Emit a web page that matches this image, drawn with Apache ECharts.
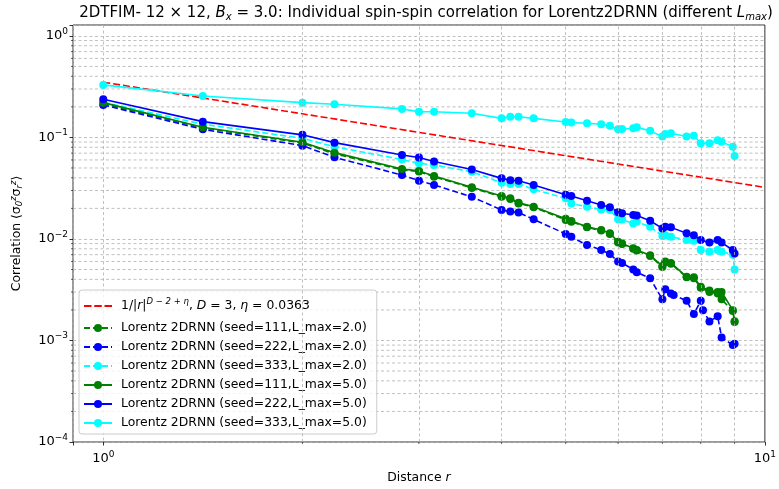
<!DOCTYPE html>
<html>
<head>
<meta charset="utf-8">
<script src="https://cdn.jsdelivr.net/npm/echarts@6/dist/echarts.min.js"></script>
<style>
  html, body { margin: 0; padding: 0; background: #ffffff; }
  #chart { width: 779px; height: 489px; }
</style>
</head>
<body>
<div id="chart"></div>
<script>
// Pair distances r on the 12x12 lattice
const distances = [1, 1.414, 2, 2.236, 2.828, 3, 3.162, 3.606, 4, 4.123, 4.243, 4.472,
  5, 5.099, 5.385, 5.657, 5.831, 6, 6.083, 6.325, 6.403, 6.708, 7, 7.071, 7.211, 7.280,
  7.616, 7.810, 8, 8.062, 8.246, 8.485, 8.602, 8.944, 9];

// <sigma_0^z sigma_r^z> per model (null = pair distance not sampled)
const seed111Lmax2 = [0.215, 0.124, 0.088, 0.069, 0.0480, 0.0462, 0.0410, 0.0318, 0.0260, 0.0248, 0.0224, 0.0205,
  0.0154, 0.0148, 0.0130, 0.0121, 0.0112, 0.0092, 0.0089, 0.0080, 0.0077, 0.0068, 0.0053, 0.0059, 0.0057, null,
  0.0042, 0.0041, 0.0033, null, 0.0030, 0.0029, 0.00254, 0.00195, 0.00152];
const seed222Lmax2 = [0.209, 0.120, 0.083, 0.0637, 0.0426, 0.0375, 0.0340, 0.0260, 0.0193, 0.0186, 0.0182, 0.0156,
  0.0112, 0.0105, 0.0087, 0.0078, 0.0071, 0.0060, 0.0058, 0.0050, 0.0047, 0.0041, 0.00254, 0.0032, 0.0029, 0.0028,
  0.00246, 0.00182, 0.00246, 0.00199, 0.00154, 0.00173, 0.00107, 0.00090, 0.00093];
const seed333Lmax2 = [0.222, 0.135, 0.098, 0.081, 0.0605, 0.0556, 0.0535, 0.0459, 0.0358, 0.0348, 0.0348, 0.0308,
  0.0251, 0.0224, 0.0207, 0.0195, 0.0193, 0.0156, 0.0155, 0.0142, 0.0148, 0.0132, 0.0107, 0.0109, 0.0105, null,
  0.00976, 0.0096, 0.00778, null, 0.0075, 0.00778, 0.0075, 0.0070, 0.0050];
const seed111Lmax5 = [0.220, 0.126, 0.0895, 0.0708, 0.0489, 0.0468, 0.0417, 0.0323, 0.0265, 0.0252, 0.0227, 0.0208,
  0.0158, 0.0150, 0.0132, 0.01225, 0.0114, 0.00938, 0.0090, 0.0081, 0.0078, 0.0069, 0.0054, 0.0060, 0.0058, null,
  0.00424, 0.0042, 0.00338, null, 0.0031, 0.0030, 0.0030, 0.00199, 0.00155];
const seed222Lmax5 = [0.238, 0.143, 0.106, 0.0888, 0.0672, 0.0633, 0.0578, 0.0484, 0.0395, 0.0378, 0.0375, 0.0340,
  0.0272, 0.0265, 0.0238, 0.0216, 0.0205, 0.0183, 0.0179, 0.0172, 0.0170, 0.0151, 0.0127, 0.0132, 0.0130, null,
  0.01135, 0.0109, 0.00976, null, 0.0092, 0.00976, 0.0092, 0.00778, 0.0072];
const seed333Lmax5 = [0.329, 0.256, 0.220, 0.212, 0.191, 0.179, 0.179, 0.173, 0.154, 0.160, 0.160, 0.154,
  0.142, 0.140, 0.138, 0.135, 0.130, 0.120, 0.121, 0.123, 0.126, 0.116, 0.102, 0.108, 0.110, null,
  0.102, 0.104, 0.0875, null, 0.0875, 0.094, 0.0904, 0.081, 0.0657];

// Reference power law 1/|r|^(D-2+eta), drawn between its two end points
const powerLawR = [1, 10];
const powerLawC = [0.35, 0.0322];

// Axis ranges and minor grid ticks
const xRange = [0.9, 10];
const yRange = [1e-4, 1.28];
const xMinorTicks = [2, 3, 4, 5, 6, 7, 8, 9];
const yDecades = [1e-4, 1e-3, 1e-2, 1e-1];
const minorSteps = [2, 3, 4, 5, 6, 7, 8, 9];

const FONT = 'DejaVu Sans';
const GRID_COLOR = '#b0b0b0';
const GRID_DASH = [3, 2.5];

function pairs(xs, ys) {
  const out = [];
  xs.forEach((x, i) => { if (ys[i] != null) out.push([x, ys[i]]); });
  return out;
}

const yMinorTicks = [];
yDecades.forEach(d => minorSteps.forEach(m => yMinorTicks.push(m * d)));

function isPow10(v) {
  const e = Math.log10(v);
  return Math.abs(e - Math.round(e)) < 1e-6;
}
function expLabel(v) {
  if (!isPow10(v)) return '';
  const e = Math.round(Math.log10(v));
  return '10{sup|' + (e < 0 ? '\u2212' + (-e) : e) + '}';
}

const supStyle = { fontFamily: FONT, fontSize: 9, padding: [0, 0, 9, 0], color: '#000' };

const lineSeries = [
  { name: 'Lorentz 2DRNN (seed=111,L_max=2.0)', ys: seed111Lmax2, color: '#008000', dash: [6, 3] },
  { name: 'Lorentz 2DRNN (seed=222,L_max=2.0)', ys: seed222Lmax2, color: '#0000ff', dash: [6, 3] },
  { name: 'Lorentz 2DRNN (seed=333,L_max=2.0)', ys: seed333Lmax2, color: '#00ffff', dash: [6, 3] },
  { name: 'Lorentz 2DRNN (seed=111,L_max=5.0)', ys: seed111Lmax5, color: '#008000', dash: 'solid' },
  { name: 'Lorentz 2DRNN (seed=222,L_max=5.0)', ys: seed222Lmax5, color: '#0000ff', dash: 'solid' },
  { name: 'Lorentz 2DRNN (seed=333,L_max=5.0)', ys: seed333Lmax5, color: '#00ffff', dash: 'solid' }
];
const powerLawName = '1/|r|^(D\u22122+\u03b7), D = 3, \u03b7 = 0.0363';
const dashedIcon = 'path://M0,0h7.5v2h-7.5z M10.25,0h7.5v2h-7.5z M20.5,0h7.5v2h-7.5z';

// Minor y grid lines and minor ticks on both axes.
// Items: [x, y, kind]; kind 0 = tick below the x axis at x, kind 1 = horizontal line + tick at y
const minorGridData = xMinorTicks.map(v => [v, 0.01, 0])
  .concat(yMinorTicks.map(v => [3, v, 1]));

function renderMinorGrid(params, api) {
  const kind = api.value(2);
  if (kind < 0.5) {
    const v = api.value(0);
    const a = api.coord([v, yRange[0]]);
    return {
      type: 'polyline',
      shape: { points: [[a[0], a[1]], [a[0], a[1] + 2]] },
      style: { stroke: '#000', lineWidth: 0.6, fill: null }
    };
  }
  const v = api.value(1);
  const a = api.coord([xRange[0], v]);
  const b = api.coord([xRange[1], v]);
  return {
    type: 'group',
    children: [
      { type: 'line', shape: { x1: a[0], y1: a[1], x2: b[0], y2: b[1] },
        style: { stroke: GRID_COLOR, lineWidth: 0.8, lineDash: GRID_DASH } },
      { type: 'line', shape: { x1: a[0], y1: a[1], x2: a[0] - 2, y2: a[1] },
        style: { stroke: '#000', lineWidth: 0.6 } }
    ]
  };
}

const series = [
  {
    type: 'custom', silent: true, z: 1, clip: false,
    renderItem: renderMinorGrid,
    dimensions: ['x', 'y', 'kind'],
    encode: { x: 0, y: 1 },
    data: minorGridData,
    // vertical minor grid lines at 2..9
    markLine: {
      silent: true, symbol: ['none', 'none'], animation: false,
      label: { show: false },
      lineStyle: { color: GRID_COLOR, width: 0.8, type: GRID_DASH },
      emphasis: { disabled: true },
      data: xMinorTicks.map(v => ({ xAxis: v }))
    }
  },
  {
    name: powerLawName, type: 'line', showSymbol: false, symbol: 'none',
    data: pairs(powerLawR, powerLawC),
    itemStyle: { color: '#ff0000' },
    lineStyle: { color: '#ff0000', width: 1.6, type: [7, 3] },
    z: 3
  }
];
lineSeries.forEach(s => series.push({
  name: s.name, type: 'line', symbol: 'circle', symbolSize: 8,
  data: pairs(distances, s.ys),
  connectNulls: true,
  itemStyle: { color: s.color },
  lineStyle: { color: s.color, width: 1.6, type: s.dash },
  z: 3
}));

const chart = echarts.init(document.getElementById('chart'), null, { renderer: 'canvas' });
chart.setOption({
  animation: false,
  backgroundColor: '#ffffff',
  textStyle: { fontFamily: FONT },
  title: {
    text: '2DTFIM- 12 \u00d7 12, {it|B}{sub|x} = 3.0: Individual spin-spin correlation for Lorentz2DRNN (different {it|L}{sub|max})',
    left: 421, top: 0, textAlign: 'center',
    textStyle: {
      fontFamily: FONT, fontSize: 15, fontWeight: 'normal', color: '#000',
      rich: {
        it: { fontFamily: FONT, fontSize: 15, fontStyle: 'italic', color: '#000' },
        sub: { fontFamily: FONT, fontSize: 10, fontStyle: 'italic', padding: [7, 0, 0, 0], color: '#000' }
      }
    }
  },
  grid: {
    left: 73, right: 9, top: 25, bottom: 47,
    show: true, borderColor: '#000', borderWidth: 0.8, backgroundColor: 'transparent'
  },
  xAxis: {
    type: 'log', logBase: 10, min: xRange[0], max: xRange[1],
    name: 'Distance {it|r}', nameLocation: 'middle', nameGap: 30,
    nameTextStyle: {
      fontFamily: FONT, fontSize: 12.4, color: '#000',
      rich: { it: { fontFamily: FONT, fontSize: 12.4, fontStyle: 'italic', color: '#000' } }
    },
    axisLine: { show: false },
    axisTick: { show: true, inside: false, length: 3.5, lineStyle: { color: '#000', width: 0.8 } },
    axisLabel: {
      margin: 8, fontFamily: FONT, fontSize: 13, color: '#000',
      formatter: v => expLabel(v),
      rich: { sup: supStyle }
    },
    splitLine: { show: true, lineStyle: { color: GRID_COLOR, width: 0.8, type: GRID_DASH } },
    minorTick: { show: false }
  },
  yAxis: {
    type: 'log', logBase: 10, min: yRange[0], max: yRange[1],
    name: 'Correlation \u27e8\u03c3{sub|0}{sup|z}\u03c3{sub|r}{sup|z}\u27e9', nameLocation: 'middle', nameGap: 48, nameRotate: 90,
    nameTextStyle: {
      fontFamily: FONT, fontSize: 12.4, color: '#000',
      rich: {
        sub: { fontFamily: FONT, fontSize: 8.5, fontStyle: 'italic', padding: [6, 0, 0, 0], color: '#000' },
        sup: { fontFamily: FONT, fontSize: 8.5, fontStyle: 'italic', padding: [0, 0, 7, 0], color: '#000' }
      }
    },
    axisLine: { show: false },
    axisTick: { show: true, inside: false, length: 3.5, lineStyle: { color: '#000', width: 0.8 } },
    axisLabel: {
      margin: 5, fontFamily: FONT, fontSize: 13, color: '#000',
      formatter: v => expLabel(v),
      rich: { sup: supStyle }
    },
    splitLine: { show: true, lineStyle: { color: GRID_COLOR, width: 0.8, type: GRID_DASH } },
    minorTick: { show: false }
  },
  legend: {
    orient: 'vertical', left: 79, top: 290,
    itemWidth: 28, itemHeight: 10, itemGap: 5,
    backgroundColor: 'rgba(255,255,255,0.8)', borderColor: '#cccccc', borderWidth: 1, borderRadius: 3,
    padding: [6, 10, 4, 4],
    data: [{ name: powerLawName, icon: dashedIcon, itemStyle: { color: '#ff0000' } }]
      .concat(lineSeries.map(s => s.name)),
    formatter: function (name) {
      if (name === powerLawName) {
        return '1/|{it|r}|{sup|D \u2212 2 + \u03b7}, {it|D} = 3, {it|\u03b7} = 0.0363';
      }
      return name;
    },
    textStyle: {
      fontFamily: FONT, fontSize: 12.4, lineHeight: 14, color: '#000', padding: [0, 0, 0, 4],
      rich: {
        it: { fontFamily: FONT, fontSize: 12.4, lineHeight: 20, fontStyle: 'italic', color: '#000' },
        sup: { fontFamily: FONT, fontSize: 8.5, lineHeight: 20, fontStyle: 'italic', padding: [0, 0, 9, 0], color: '#000' }
      }
    }
  },
  series: series
});
</script>
</body>
</html>
